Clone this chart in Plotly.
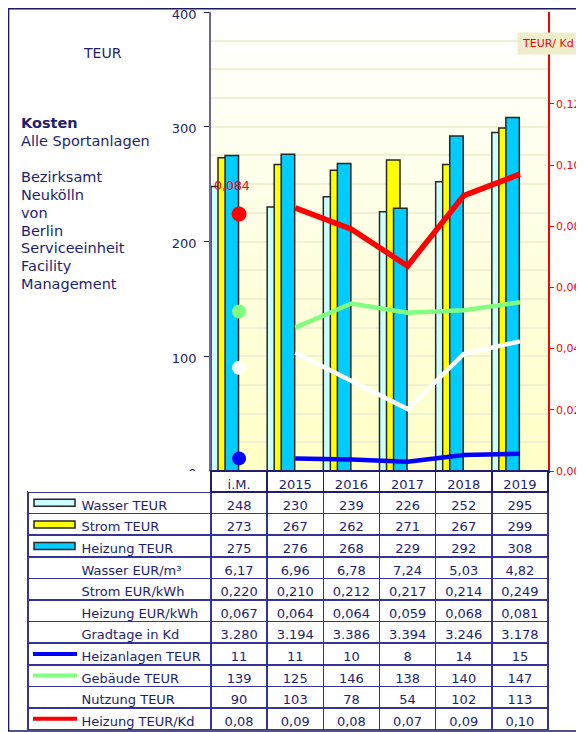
import plotly.graph_objects as go

# ---------------- data ----------------
categories = ['i.M.', '2015', '2016', '2017', '2018', '2019']
wasser_teur = [248, 230, 239, 226, 252, 295]
strom_teur = [273, 267, 262, 271, 267, 299]
heizung_teur = [275, 276, 268, 229, 292, 308]
wasser_eur_m3 = [6.17, 6.96, 6.78, 7.24, 5.03, 4.82]
strom_eur_kwh = [0.220, 0.210, 0.212, 0.217, 0.214, 0.249]
heizung_eur_kwh = [0.067, 0.064, 0.064, 0.059, 0.068, 0.081]
gradtage_kd = [3280, 3194, 3386, 3394, 3246, 3178]
heizanlagen_teur = [11, 11, 10, 8, 14, 15]
gebaeude_teur = [139, 125, 146, 138, 140, 147]
nutzung_teur = [90, 103, 78, 54, 102, 113]
heizung_teur_kd = [0.084, 0.086, 0.079, 0.067, 0.090, 0.097]

left_ticks = [0, 100, 200, 300, 400]
right_ticks = [0.00, 0.02, 0.04, 0.06, 0.08, 0.10, 0.12]

# ---------------- styles ----------------
OFF = 8                      # page body margin
W, H = 584 - OFF, 732 - OFF  # figure size so it fits the window
NAVY = '#1E1E6E'
GRIDC = '#F0F0D2'
FONT = 'DejaVu Sans, Verdana, sans-serif'
PLOT_L, PLOT_R, PLOT_T, PLOT_B = 211, 548, 12, 471
TAB_L = 28
NB = '\u00a0'

def px(x):
    return (x - OFF) / W

def py(y):
    return 1 - (y - OFF) / H

def de(v, d):
    s = f'{v:.{d}f}'
    return s.replace('.', ',')

def thousands(v):
    return f'{v:,}'.replace(',', '.')

fig = go.Figure()

bar_specs = [
    ('Wasser TEUR', wasser_teur, '#CCFFFF', -0.5),
    ('Strom TEUR', strom_teur, '#FFFF00', -0.375),
    ('Heizung TEUR', heizung_teur, '#00CCFF', -0.25),
]
for name, vals, col, off in bar_specs:
    fig.add_trace(go.Bar(
        x=categories, y=vals, name=name, offset=off, width=0.24,
        marker=dict(color=col, line=dict(color='#262626', width=1.5)),
        xaxis='x', yaxis='y', showlegend=False, hoverinfo='skip'))

line_specs = [
    ('Nutzung TEUR', nutzung_teur, '#FFFFFF'),
    ('Gebäude TEUR', gebaeude_teur, '#80FF80'),
    ('Heizanlagen TEUR', heizanlagen_teur, '#0000FF'),
]
for name, vals, col in line_specs:
    fig.add_trace(go.Scatter(
        x=categories[1:], y=vals[1:], mode='lines', name=name,
        line=dict(color=col, width=4.5), xaxis='x', yaxis='y', showlegend=False))
    fig.add_trace(go.Scatter(
        x=categories[:1], y=vals[:1], mode='markers', name=name,
        marker=dict(color=col, size=14), xaxis='x', yaxis='y', showlegend=False))

fig.add_trace(go.Scatter(
    x=categories[1:], y=heizung_teur_kd[1:], mode='lines', name='Heizung TEUR/Kd',
    line=dict(color='#FF0000', width=5.5), xaxis='x', yaxis='y2', showlegend=False))
fig.add_trace(go.Scatter(
    x=categories[:1], y=heizung_teur_kd[:1], mode='markers', name='Heizung TEUR/Kd',
    marker=dict(color='#FF0000', size=15), xaxis='x', yaxis='y2', showlegend=False))

# red data labels (pixel shifts are styling only)
label_shifts = [(-7, 28), (16, 30), (18, 23), (1, 29), (5, 23), (10, 22)]
annotations = []
for c, v, (dx, dy) in zip(categories, heizung_teur_kd, label_shifts):
    annotations.append(dict(x=c, y=v, xref='x', yref='y2', text=de(v, 3),
                            showarrow=False, xshift=dx, yshift=dy,
                            xanchor='center', yanchor='middle',
                            font=dict(color='#FF0000', size=12.5, family=FONT)))

# ---------------- table ----------------
pad = NB * 11
row_labels = ['Wasser TEUR', 'Strom TEUR', 'Heizung TEUR', 'Wasser EUR/m³',
              'Strom EUR/kWh', 'Heizung EUR/kWh', 'Gradtage in Kd',
              'Heizanlagen TEUR', 'Gebäude TEUR', 'Nutzung TEUR', 'Heizung TEUR/Kd']
rows = [
    [str(v) for v in wasser_teur],
    [str(v) for v in strom_teur],
    [str(v) for v in heizung_teur],
    [de(v, 2) for v in wasser_eur_m3],
    [de(v, 3) for v in strom_eur_kwh],
    [de(v, 3) for v in heizung_eur_kwh],
    [thousands(v) for v in gradtage_kd],
    [str(v) for v in heizanlagen_teur],
    [str(v) for v in gebaeude_teur],
    [str(v) for v in nutzung_teur],
    [de(v, 2) for v in heizung_teur_kd],
]
cols = [[pad + l.replace(' ', NB) for l in row_labels]] + \
       [[r[i] for r in rows] for i in range(len(categories))]

HDR_H = 21
ROW_H = 21.6
tab_bottom = min(732, PLOT_B + HDR_H + ROW_H * len(row_labels) + 1)
fig.add_trace(go.Table(
    domain=dict(x=[px(TAB_L), px(PLOT_R)], y=[py(tab_bottom), py(PLOT_B)]),
    columnwidth=[PLOT_L - TAB_L] + [(PLOT_R - PLOT_L) / 6] * 6,
    header=dict(values=[''] + categories, height=HDR_H,
                fill=dict(color='rgba(255,255,255,1)'),
                line=dict(color=['rgba(255,255,255,0)'] + [NAVY] * 6, width=1.5),
                align='center', font=dict(color=NAVY, size=13, family=FONT)),
    cells=dict(values=cols, height=ROW_H, fill=dict(color='white'),
               line=dict(color='#333399', width=1.5),
               align=['left'] + ['center'] * 6,
               font=dict(color=NAVY, size=13, family=FONT)),
))

shapes = []
# gradient background of plot area
N = 40
for i in range(N):
    t = i / (N - 1)
    b = int(round(255 - 57 * t))
    shapes.append(dict(type='rect', xref='x domain', yref='y domain',
                       x0=0, x1=1, y0=1 - (i + 1) / N, y1=1 - i / N,
                       fillcolor=f'rgb(255,255,{b})', line=dict(width=0), layer='below'))

# outer border
shapes.append(dict(type='rect', xref='paper', yref='paper', x0=0.001, x1=1.02,
                   y0=py(731), y1=0.999, line=dict(color='#1A1A5E', width=1.5)))

# table legend swatches
bar_rows = [(0, '#CCFFFF'), (1, '#FFFF00'), (2, '#00CCFF')]
line_rows = [(7, '#0000FF'), (8, '#80FF80'), (10, '#FF0000')]
for r, col in bar_rows:
    yc = PLOT_B + HDR_H + ROW_H * (r + 0.5)
    shapes.append(dict(type='rect', xref='paper', yref='paper', x0=px(34), x1=px(75),
                       y0=py(yc + 3.5), y1=py(yc - 3.5), fillcolor=col,
                       line=dict(color='#262626', width=1.5)))
for r, col in line_rows:
    yc = PLOT_B + HDR_H + ROW_H * (r + 0.5)
    shapes.append(dict(type='line', xref='paper', yref='paper', x0=px(33), x1=px(77),
                       y0=py(yc), y1=py(yc), line=dict(color=col, width=4)))

# text blocks on the left
annotations.append(dict(x=px(102), y=py(53), xref='paper', yref='paper', text='TEUR',
                        showarrow=False, xanchor='center', yanchor='middle',
                        font=dict(color=NAVY, size=14, family=FONT)))
left_lines = [('<b>Kosten</b>', 123), ('Alle Sportanlagen', 141), ('Bezirksamt', 177),
              ('Neukölln', 195), ('von', 213), ('Berlin', 231), ('Serviceeinheit', 248),
              ('Facility', 266), ('Management', 284)]
for txt, y in left_lines:
    annotations.append(dict(x=px(19), y=py(y), xref='paper', yref='paper', text=txt,
                            showarrow=False, xanchor='left', yanchor='middle',
                            font=dict(color=NAVY, size=14.5, family=FONT)))
annotations.append(dict(x=px(517), y=py(43), xref='paper', yref='paper',
                        text='TEUR/ Kd' + NB * 2,
                        showarrow=False, bgcolor='#EEEECC', borderpad=4,
                        xanchor='left', yanchor='middle',
                        font=dict(color='#FF0000', size=11, family=FONT)))

fig.update_layout(
    width=W, height=H, autosize=False,
    margin=dict(l=0, r=0, t=0, b=0, autoexpand=False),
    paper_bgcolor='white', plot_bgcolor='rgba(0,0,0,0)',
    barmode='overlay', showlegend=False,
    separators=',.',
    font=dict(family=FONT, color=NAVY),
    xaxis=dict(domain=[px(PLOT_L), px(PLOT_R)], type='category',
               categoryorder='array', categoryarray=categories,
               range=[-0.5, 5.5], showticklabels=False, ticks='',
               showgrid=False, zeroline=False, showline=True, automargin=False,
               linecolor=NAVY, linewidth=1.5),
    yaxis=dict(domain=[py(PLOT_B), py(PLOT_T)], range=[0, 400], automargin=False,
               tickvals=left_ticks, ticks='outside', ticklen=5, tickcolor=NAVY,
               showline=True, linecolor='#6A6A9A', linewidth=1.5,
               ticklabeloverflow='allow', ticklabelstandoff=5, ticklabelshift=2,
               tickfont=dict(color=NAVY, size=13, family=FONT),
               showgrid=True, gridcolor=GRIDC, gridwidth=1.5, zeroline=False,
               minor=dict(dtick=25, showgrid=True, gridcolor=GRIDC, gridwidth=1.5)),
    yaxis2=dict(overlaying='y', side='right', anchor='x', range=[0, 0.15],
                automargin=False,
                tickvals=right_ticks, tickformat='.2f', ticks='outside', ticklen=4,
                tickcolor='#FF0000', showline=True, linecolor='#FF0000', linewidth=1.5,
                ticklabeloverflow='allow',
                tickfont=dict(color='#FF0000', size=11, family=FONT),
                showgrid=False, zeroline=False),
    shapes=shapes, annotations=annotations,
)

fig.write_html('out.html')
